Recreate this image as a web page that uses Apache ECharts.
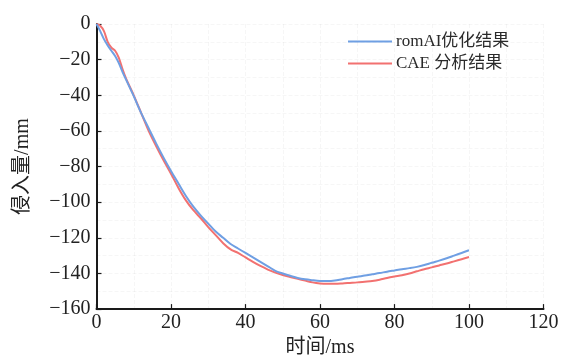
<!DOCTYPE html>
<html>
<head>
<meta charset="utf-8">
<script src="https://cdn.jsdelivr.net/npm/echarts@6/dist/echarts.min.js"></script>
<style>
  html, body { margin: 0; padding: 0; background: #fff; }
  #chart { width: 564px; height: 363px; }
</style>
</head>
<body>
<div id="chart"></div>
<script>
// Intrusion displacement over time: romAI prediction vs CAE result
const seriesNames = ['romAI优化结果', 'CAE 分析结果'];

const timeMs = [0, 1, 2, 3, 4, 5, 6, 7, 8, 9, 10, 12, 14, 16, 18, 20, 22, 24, 26, 28, 30,
  32, 34, 36, 38, 40, 42, 44, 46, 48, 50, 52, 54, 56, 58, 60, 62, 64, 66, 68, 70,
  72, 74, 76, 78, 80, 82, 84, 86, 88, 90, 92, 94, 96, 98, 100];

const romAIValues = [0, -4, -8.5, -12, -15, -18, -22, -27, -31.5, -36, -40.5, -50, -58.5, -67, -75, -82.5, -89.5, -96.5, -102.5, -107.5, -112,
  -116.5, -120, -123.5, -126, -128.5, -131, -133.5, -136, -138.5, -140, -141.3, -142.5, -143.3, -143.8, -144.2, -144.3, -144, -143.2, -142.5, -141.8,
  -141.2, -140.5, -139.8, -139, -138.3, -137.6, -137, -136.3, -135.3, -134, -132.8, -131.5, -130, -128.5, -127];

const caeValues = [0, -1, -4, -10, -13.3, -15, -19, -25.5, -31, -35.5, -40, -50, -60, -68.5, -76.5, -84, -92, -99, -104.5, -109, -114,
  -118.5, -123, -126.5, -128.5, -131, -133.5, -135.8, -137.8, -139.5, -140.9, -142, -143, -144, -145, -145.6, -145.8, -145.8, -145.6, -145.3, -145,
  -144.6, -144.2, -143.5, -142.5, -141.7, -141, -140, -138.8, -137.6, -136.6, -135.5, -134.4, -133.2, -132, -130.8];

const xTicks = { min: 0, max: 120, step: 20 };
const yTicks = { min: -160, max: 0, step: 20 };

const FONT = "'Liberation Serif', 'Noto Sans CJK SC', serif";
const TEXT = '#222';
const colors = ['#6f9fe3', '#f27170'];

const pairs = (xs, ys) => xs.map((x, i) => [x, ys[i]]);
const minus = v => String(v).replace('-', '\u2212');

const gridLine = { show: true, lineStyle: { color: 'rgba(0,0,0,0.035)', width: 1, type: 'dashed' } };

const chart = echarts.init(document.getElementById('chart'), null, { renderer: 'canvas' });
chart.setOption({
  animation: false,
  backgroundColor: '#fff',
  color: colors,
  grid: { left: 96.5, right: 20.5, top: 24, bottom: 50, containLabel: false },
  legend: {
    orient: 'vertical',
    left: 343,
    top: 26,
    icon: 'rect',
    itemWidth: 44,
    itemHeight: 2,
    itemGap: 1,
    textStyle: { fontFamily: FONT, fontSize: 17, color: '#2a2a2a', lineHeight: 21, padding: [0, 0, 0, -1] },
    data: seriesNames
  },
  xAxis: {
    type: 'value',
    min: xTicks.min, max: xTicks.max, interval: xTicks.step,
    name: '时间/ms',
    nameLocation: 'middle',
    nameGap: 24,
    nameTextStyle: { fontFamily: FONT, fontSize: 20, color: TEXT },
    axisLine: { show: true, onZero: false, lineStyle: { color: '#1a1a1a', width: 2 } },
    axisTick: { show: true, inside: true, length: 5, lineStyle: { color: '#1a1a1a', width: 1.2 } },
    axisLabel: { fontFamily: FONT, fontSize: 20, color: TEXT, margin: 4, formatter: minus },
    splitLine: gridLine,
    minorTick: { show: false, splitNumber: 2 },
    minorSplitLine: gridLine
  },
  yAxis: {
    type: 'value',
    min: yTicks.min, max: yTicks.max, interval: yTicks.step,
    name: '侵入量/mm',
    nameLocation: 'middle',
    nameGap: 64,
    nameTextStyle: { fontFamily: FONT, fontSize: 20, color: TEXT },
    axisLine: { show: true, onZero: false, lineStyle: { color: '#1a1a1a', width: 2 } },
    axisTick: { show: true, inside: true, length: 5, lineStyle: { color: '#1a1a1a', width: 1.2 } },
    axisLabel: { fontFamily: FONT, fontSize: 20, color: TEXT, margin: 6, formatter: minus },
    splitLine: gridLine,
    minorTick: { show: false, splitNumber: 2 },
    minorSplitLine: gridLine
  },
  series: [
    {
      name: seriesNames[0],
      type: 'line',
      data: pairs(timeMs, romAIValues),
      showSymbol: false,
      smooth: 0.3,
      lineStyle: { width: 2, color: colors[0] },
      itemStyle: { color: colors[0] },
      z: 3
    },
    {
      name: seriesNames[1],
      type: 'line',
      data: pairs(timeMs, caeValues),
      showSymbol: false,
      smooth: 0.3,
      lineStyle: { width: 2, color: colors[1] },
      itemStyle: { color: colors[1] },
      z: 2
    }
  ]
});
</script>
</body>
</html>
